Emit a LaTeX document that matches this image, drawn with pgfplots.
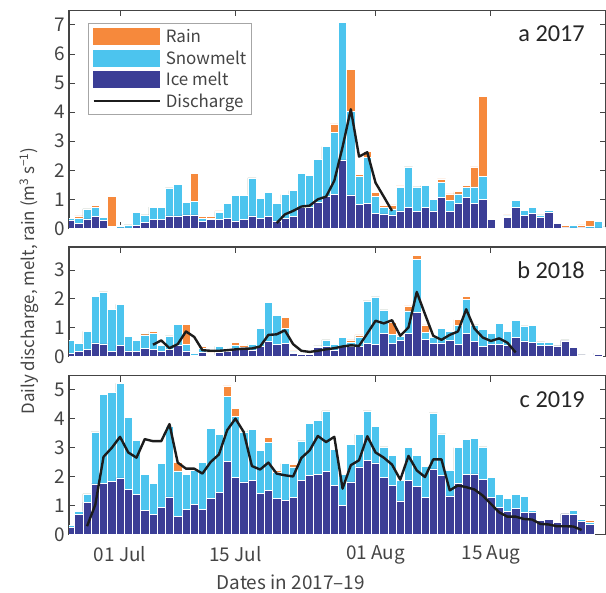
\documentclass[border=0pt]{standalone}
\usepackage{fontspec}
\setmainfont{Noto Sans CJK JP}
\newfontfamily\panelfont{Carlito}
\usepackage{pgfplots}
\usepackage{pgfplotstable}
\pgfplotsset{compat=1.18}

\definecolor{rainc}{RGB}{246,137,60}
\definecolor{snowc}{RGB}{76,196,238}
\definecolor{icec}{RGB}{59,62,150}
\definecolor{framec}{RGB}{68,68,68}
\definecolor{qcol}{RGB}{28,28,28}

% daily components (m^3 s^-1); day 0 = 1 July
\pgfplotstableread{
day ice snow rain
-6 0.28 0.07 0
-5 0.18 0.17 0.08
-4 0.33 0.34 0
-3 0.40 0.32 0.06
-2 0.28 0.09 0
-1 0.04 0.03 1.03
0 0.02 0.04 0.04
1 0.02 0.10 0
2 0.10 0.45 0
3 0.20 0.26 0
4 0.30 0.43 0
5 0.30 0.43 0
6 0.43 0.96 0
7 0.43 1.09 0
8 0.46 0.44 0
9 0.46 0.48 0.94
10 0.23 0.11 0.07
11 0.30 0.04 0.07
12 0.32 0.23 0.05
13 0.35 0.50 0
14 0.26 0.88 0
15 0.32 0.82 0
16 0.43 1.31 0
17 0.34 0.68 0
18 0.42 0.81 0
19 0.26 0.59 0
20 0.35 0.81 0
21 0.41 0.89 0
22 0.71 1.19 0
23 0.74 1.09 0
24 0.90 1.47 0
25 1.09 1.72 0
26 1.18 2.12 0.30
27 2.36 4.74 0
28 1.15 2.87 1.46
29 0.83 0.97 0.06
30 0.85 1.59 0.20
31 0.52 0.59 0.12
32 0.50 0.22 0.06
33 0.46 0.21 0.14
34 0.60 0.80 0.06
35 0.71 1.41 0
36 0.58 0.85 0
37 0.71 0.76 0
38 0.60 0.40 0
39 1.07 0.52 0.11
40 0.58 0.38 0.23
41 0.85 0.34 0.07
42 1.06 0.34 0.08
43 0.86 0.57 0.69
44 1.00 0.78 2.75
45 0.30 0 0
46 0.03 0 0
47 0.39 0.04 0.03
48 0.73 0.23 0
49 0.45 0.18 0
50 0.52 0.21 0
51 0.39 0.07 0
52 0.55 0.08 0
53 0.18 0 0
54 0.02 0.01 0.06
55 0.02 0.07 0
56 0.02 0.01 0.09
57 0.02 0.06 0.19
58 0.02 0.23 0
59 0 0.05 0
}\tabA

\pgfplotstableread{
day q
19 0.18
20 0.48
21 0.60
22 0.75
23 0.78
24 1.00
25 1.09
26 1.64
27 2.80
28 4.10
29 2.47
30 2.62
31 1.57
32 1.09
33 0.60
}\qA

\pgfplotstableread{
day ice snow rain
-6 0.12 0.43 0
-5 0.17 0.29 0
-4 0.25 0.62 0
-3 0.47 1.61 0
-2 0.44 1.80 0
-1 0.17 1.46 0
0 0.39 1.42 0
1 0.20 0.49 0
2 0.17 0.38 0.04
3 0.29 0.46 0.06
4 0.24 0.56 0.07
5 0.18 0.22 0
6 0.26 0.46 0
7 0.40 0.72 0
8 0.20 0.21 0.71
9 0.03 0.07 0.05
10 0.14 0.14 0.07
11 0.03 0.05 0.05
12 0.14 0.21 0
13 0.20 0.05 0
14 0.29 0.10 0.09
15 0.30 0.03 0.07
16 0.23 0.20 0
17 0.35 0.62 0
18 0.52 1.35 0
19 0.43 1.00 0
20 0.45 0.52 0.38
21 0.10 0.06 0.04
22 0.08 0.02 0
23 0.07 0 0
24 0.31 0.06 0
25 0.35 0.23 0
26 0.23 0.20 0
27 0.34 0.32 0
28 0.35 0.14 0.09
29 0.37 0.31 0.07
30 0.45 1.48 0
31 0.41 1.66 0
32 0.80 0.82 0
33 0.46 0.31 0.41
34 0.57 0.15 0
35 0.81 0.77 0.18
36 1.53 1.85 0.14
37 0.59 0.24 0.27
38 0.45 0.21 0
39 0.47 0.51 0
40 0.57 0.30 0.05
41 0.43 0.66 0.19
42 0.81 1.18 0.09
43 0.52 0.58 0
44 0.34 0.60 0
45 0.41 0.40 0
46 0.41 0.74 0
47 0.40 0.47 0
48 0.66 0.59 0
49 0.54 0.52 0
50 0.48 0.61 0
51 0.40 0.11 0
52 0.40 0.08 0
53 0.37 0 0
54 0.54 0.04 0
55 0.31 0 0
56 0.06 0 0
57 0.03 0.05 0
58 0.08 0.04 0
}\tabB

\pgfplotstableread{
day q
4 0.41
5 0.56
6 0.29
7 0.43
8 0.87
9 0.68
10 0.22
11 0.20
12 0.20
13 0.22
14 0.25
15 0.27
16 0.28
17 0.35
18 0.75
19 0.77
20 0.91
21 0.43
22 0.20
23 0.16
24 0.20
25 0.25
26 0.29
27 0.35
28 0.39
29 0.37
30 0.80
31 1.24
32 1.15
33 1.26
34 0.72
35 1.01
36 2.24
37 1.47
38 0.72
39 0.58
40 0.75
41 0.87
42 1.64
43 0.97
44 0.66
45 0.54
46 0.63
47 0.48
48 0.14
}\qB

\pgfplotstableread{
day ice snow rain
-6 0.25 0.06 0
-5 0.70 0.11 0
-4 1.11 0.30 0
-3 1.75 1.80 0
-2 1.78 3.08 0
-1 1.84 3.08 0
0 1.96 3.27 0
1 1.56 2.50 0
2 1.40 1.85 0
3 0.85 1.22 0
4 0.69 1.08 0
5 0.93 1.53 0
6 1.30 2.45 0
7 0.62 1.58 0.29
8 0.87 1.21 0
9 1.05 1.19 0
10 0.88 1.61 0
11 1.25 2.42 0
12 1.46 2.01 0
13 2.54 2.23 0.37
14 1.97 2.13 0.26
15 1.82 1.73 0
16 1.87 1.76 0
17 1.43 1.48 0
18 1.52 1.66 0.17
19 1.24 0.90 0.07
20 1.19 1.26 0
21 1.28 1.06 0.08
22 1.87 1.37 0
23 2.05 1.79 0
24 2.07 1.89 0
25 2.18 2.10 0
26 1.70 1.25 0
27 1.02 1.06 0
28 1.82 1.30 0
29 2.34 1.13 0
30 2.57 1.71 0
31 2.48 1.27 0
32 1.97 1.06 0
33 1.70 1.04 0
34 1.17 0.70 0
35 1.87 1.14 0
36 1.68 1.06 0
37 1.29 1.07 0
38 2.27 1.94 0
39 2.06 1.42 0
40 1.34 0.88 0
41 1.76 1.25 0
42 2.08 1.21 0
43 2.10 1.22 0
44 1.91 1.12 0
45 1.29 0.70 0
46 0.95 0.44 0
47 0.81 0.44 0
48 0.91 0.47 0
49 0.77 0.54 0
50 0.77 0.08 0
51 0.49 0 0
52 0.52 0 0
53 0.43 0 0
54 0.72 0 0
55 0.70 0.13 0
56 0.47 0.05 0.05
57 0.35 0.06 0.08
}\tabC

\pgfplotstableread{
day q
-4 0.29
-3 1.03
-2 2.69
-1 3.00
0 3.38
1 2.84
2 2.66
3 3.30
4 3.23
5 3.23
6 3.82
7 2.49
8 2.28
9 2.28
10 2.11
11 2.51
12 2.77
13 3.61
14 4.01
15 3.55
16 2.37
17 2.25
18 2.49
19 2.11
20 2.05
21 2.01
22 2.65
23 2.91
24 3.41
25 3.20
26 3.38
27 1.59
28 2.40
29 2.57
30 3.40
31 2.84
32 2.66
33 2.42
34 1.90
35 2.72
36 2.22
37 1.99
38 2.60
39 2.60
40 1.53
41 1.70
42 1.64
43 1.56
44 1.35
45 1.06
46 0.77
47 0.62
48 0.62
49 0.54
50 0.52
51 0.37
52 0.35
53 0.29
54 0.29
55 0.28
56 0.16
}\qC

\pgfplotsset{
  panel/.style={
    scale only axis, width=536.5bp,
    xmin=-6.19, xmax=58.9, ymin=0,
    axis line style={framec, line width=1.3bp},
    tick style={framec, line width=1bp},
    major tick length=6bp,
    tick align=inside,
    xtick pos=both, ytick pos=both,
    xtick={0,14,31,45},
    xticklabels={},
    tick label style={font=\fontsize{19}{21}\selectfont, color=framec},
    /pgf/number format/assume math mode=true,
  },
  rainbar/.style={ybar, bar width=1, bar shift=0pt, fill=rainc, draw=white, line width=0.5bp, forget plot},
  snowbar/.style={ybar, bar width=1, bar shift=0pt, fill=snowc, draw=white, line width=0.5bp, forget plot},
  icebar/.style={ybar, bar width=1, bar shift=0pt, fill=icec, draw=white, line width=0.5bp, forget plot},
  qline/.style={sharp plot, no marks, color=qcol, line width=2.4bp, line join=round, forget plot},
  rainleg/.style={legend image code/.code={\fill[rainc] (0bp,-8bp) rectangle (66bp,8bp);}},
  snowleg/.style={legend image code/.code={\fill[snowc] (0bp,-8bp) rectangle (66bp,8bp);}},
  iceleg/.style={legend image code/.code={\fill[icec] (0bp,-8bp) rectangle (66bp,8bp);}},
  qleg/.style={legend image code/.code={\draw[qcol, line width=2.4bp] (0bp,0bp) -- (66bp,0bp);}},
}

\newcommand{\panellabel}[1]{\node[anchor=base east, inner sep=0pt, xshift=-20.5bp, yshift=-31.5bp,
  font=\panelfont\fontsize{24.4}{26}\selectfont, text=black!85] at (rel axis cs:1,1) {#1};}

\begin{document}
\begin{tikzpicture}

% a 2017
\begin{axis}[panel, at={(69bp,364.65bp)}, anchor=south west,
  height=217.9bp, ymax=7.5, ytick={0,...,7},
  legend style={at={(0,1)}, anchor=north west, xshift=19bp, yshift=-12.5bp,
    draw=gray!70, line width=0.8bp, fill=white,
    font=\fontsize{17}{19}\selectfont, text=framec,
    nodes={inner sep=1bp},
    row sep=4.5bp, inner xsep=4bp, inner ysep=5bp,
    /tikz/every odd column/.append style={column sep=4bp}},
  legend cell align=left]
  \addlegendimage{rainleg}\addlegendentry{Rain}
  \addlegendimage{snowleg}\addlegendentry{Snowmelt}
  \addlegendimage{iceleg}\addlegendentry{Ice melt}
  \addlegendimage{qleg}\addlegendentry{Discharge}
  \addplot[rainbar] table[x=day, y expr=\thisrow{ice}+\thisrow{snow}+\thisrow{rain}] {\tabA};
  \addplot[snowbar] table[x=day, y expr=\thisrow{ice}+\thisrow{snow}] {\tabA};
  \addplot[icebar] table[x=day, y=ice] {\tabA};
  \addplot[qline] table[x=day, y=q] {\qA};
  \panellabel{a 2017}
\end{axis}

% b 2018
\begin{axis}[panel, at={(69bp,236.45bp)}, anchor=south west,
  height=109.6bp, ymax=3.8, ytick={0,...,3}]
  \addplot[rainbar] table[x=day, y expr=\thisrow{ice}+\thisrow{snow}+\thisrow{rain}] {\tabB};
  \addplot[snowbar] table[x=day, y expr=\thisrow{ice}+\thisrow{snow}] {\tabB};
  \addplot[icebar] table[x=day, y=ice] {\tabB};
  \addplot[qline] table[x=day, y=q] {\qB};
  \panellabel{b 2018}
\end{axis}

% c 2019
\begin{axis}[panel, at={(69bp,58.4bp)}, anchor=south west,
  height=159.1bp, ymax=5.5, ytick={0,...,5},
  xticklabels={01 Jul,15 Jul,01 Aug,15 Aug},
  xticklabel style={yshift=-8bp}]
  \addplot[rainbar] table[x=day, y expr=\thisrow{ice}+\thisrow{snow}+\thisrow{rain}] {\tabC};
  \addplot[snowbar] table[x=day, y expr=\thisrow{ice}+\thisrow{snow}] {\tabC};
  \addplot[icebar] table[x=day, y=ice] {\tabC};
  \addplot[qline] table[x=day, y=q] {\qC};
  \panellabel{c 2019}
\end{axis}

% shared axis titles
\node[rotate=90, font=\fontsize{17}{19}\selectfont, text=framec] at (29bp,312bp)
  {Daily discharge, melt, rain (m\textsuperscript{3} s\textsuperscript{−1})};
\node[anchor=base, font=\fontsize{19}{21}\selectfont, text=framec] at (290.7bp,3.5bp)
  {Dates in 2017–19};

\pgfresetboundingbox
\path[use as bounding box] (0bp,0bp) rectangle (606bp,593bp);
\end{tikzpicture}
\end{document}
